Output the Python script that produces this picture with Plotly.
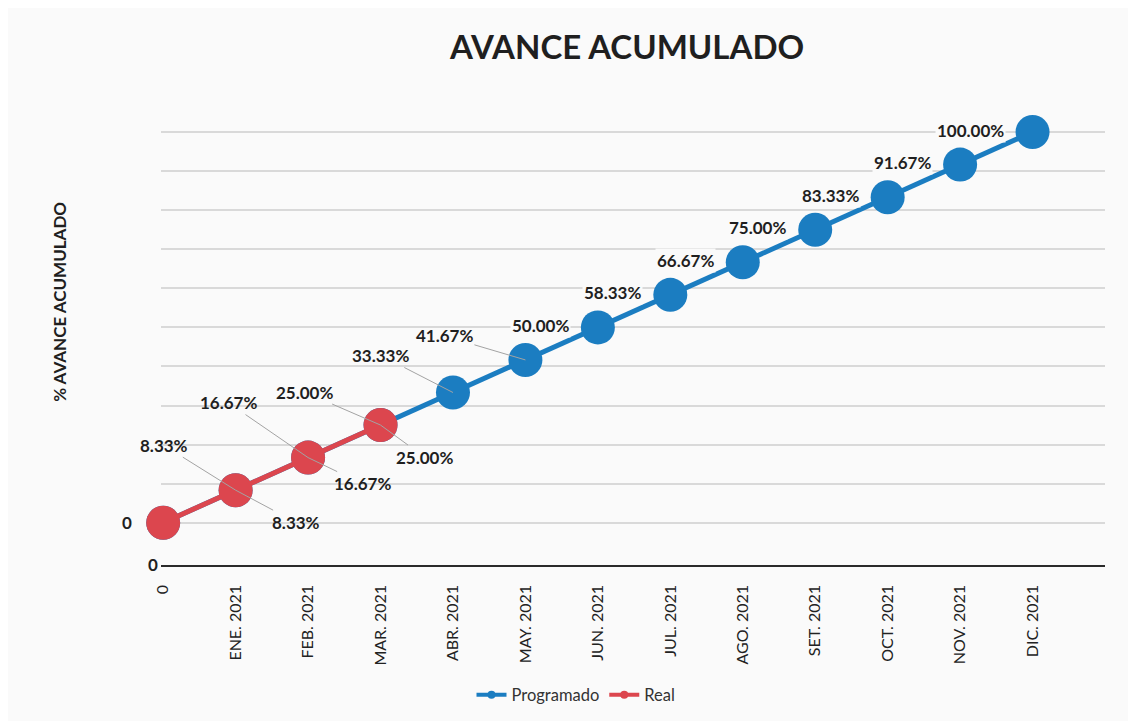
import plotly.graph_objects as go

# ---- data ----
categories = ["0", "ENE. 2021", "FEB. 2021", "MAR. 2021", "ABR. 2021", "MAY. 2021",
              "JUN. 2021", "JUL. 2021", "AGO. 2021", "SET. 2021", "OCT. 2021",
              "NOV. 2021", "DIC. 2021"]
programado = [0, 8.33, 16.67, 25.00, 33.33, 41.67, 50.00, 58.33, 66.67, 75.00, 83.33, 91.67, 100.00]
real = [0, 8.33, 16.67, 25.00]
real_categories = categories[:len(real)]

# ---- styles ----
BLUE = "#1b7dc1"
RED = "#dc464e"
TXT = "#1f1f1f"
BG = "#fafafa"
FONT = "Lato"
LEADER = "#a3a3a3"

# label offsets (pixels) for data labels: (ax, ay) or None for plain left label
real_offsets = [None, (-72, -45), (-80, -55), (-76, -33)]
prog_offsets = [None, (60, 32), (54, 26), (44, 32), (-72, -37), (-81, -24)] + [None] * 7


def fmt(v):
    return "<b>0</b>" if v == 0 else f"<b>{v:.2f}%</b>"


fig = go.Figure()
fig.add_trace(go.Scatter(
    x=categories, y=programado, mode="lines+markers", name="Programado",
    line=dict(color=BLUE, width=5), marker=dict(color=BLUE, size=34),
    showlegend=False, cliponaxis=False))
fig.add_trace(go.Scatter(
    x=real_categories, y=real, mode="lines+markers", name="Real",
    line=dict(color=RED, width=5), marker=dict(color=RED, size=34),
    showlegend=False, cliponaxis=False))
# legend-only entries with small markers
fig.add_trace(go.Scatter(
    x=[None], y=[None], mode="lines+markers", name="Programado",
    line=dict(color=BLUE, width=4), marker=dict(color=BLUE, size=8)))
fig.add_trace(go.Scatter(
    x=[None], y=[None], mode="lines+markers", name="Real",
    line=dict(color=RED, width=4), marker=dict(color=RED, size=8)))

annotations = []
label_font = dict(family=FONT, size=17, color=TXT)

# Real labels
for c, v, off in zip(real_categories, real, real_offsets):
    if off is None:
        annotations.append(dict(x=c, y=v, text=fmt(v), showarrow=False,
                                xanchor="center", xshift=-36, font=label_font))
    else:
        annotations.append(dict(x=c, y=v, text=fmt(v), showarrow=True, ax=off[0], ay=off[1],
                                arrowhead=0, arrowwidth=1, arrowcolor=LEADER, standoff=0,
                                font=label_font))

# Programado labels
for i, (c, v, off) in enumerate(zip(categories, programado, prog_offsets)):
    if i == 0:
        continue
    if off is None:
        annotations.append(dict(x=c, y=v, text=fmt(v), showarrow=False,
                                xanchor="right", yanchor="middle", xshift=-27, yshift=2,
                                font=label_font, bgcolor=BG))
    else:
        annotations.append(dict(x=c, y=v, text=fmt(v), showarrow=True, ax=off[0], ay=off[1],
                                arrowhead=0, arrowwidth=1, arrowcolor=LEADER, standoff=0,
                                font=label_font))

# axis-bottom "0" label and y-axis title
annotations.append(dict(xref="paper", yref="paper", x=0, y=0, text="<b>0</b>", showarrow=False,
                        xanchor="right", yanchor="middle", xshift=-1,
                        font=dict(family=FONT, size=17, color=TXT)))
annotations.append(dict(xref="paper", yref="paper", x=-0.107, y=0.557,
                        xanchor="center", yanchor="middle",
                        text="<b>% AVANCE ACUMULADO</b>", showarrow=False, textangle=-90,
                        font=dict(family=FONT, size=17, color=TXT)))

# page body has an 8px margin: shift everything up/left by 8px
fig.update_layout(
    width=1136, height=721,
    paper_bgcolor=BG, plot_bgcolor=BG,
    margin=dict(l=153, r=39, t=85, b=162),
    title=dict(text="<b>AVANCE ACUMULADO</b>", x=0.545, xref="container", xanchor="center",
               y=0.945, yref="container", yanchor="middle",
               font=dict(family=FONT, size=33, color=TXT)),
    xaxis=dict(type="category", range=[-0.03, 13], showgrid=False, zeroline=False,
               showline=True, linecolor="#2a2a2a", linewidth=2,
               tickangle=-90, ticks="", ticklabelstandoff=12,
               tickfont=dict(family=FONT, size=16, color="#222222")),
    yaxis=dict(range=[-10.7, 110], tickvals=list(range(0, 101, 10)), showticklabels=False,
               showgrid=True, gridcolor="#d9d9d9", gridwidth=1.5, zeroline=False,
               showline=False, ticks=""),
    legend=dict(orientation="h", xref="container", yref="container", x=0.5, y=0.047,
                xanchor="center", yanchor="middle",
                font=dict(family=FONT, size=16.5, color="#333333"), bgcolor="rgba(0,0,0,0)"),
    annotations=annotations,
    showlegend=True,
)

fig.write_html("out.html")
